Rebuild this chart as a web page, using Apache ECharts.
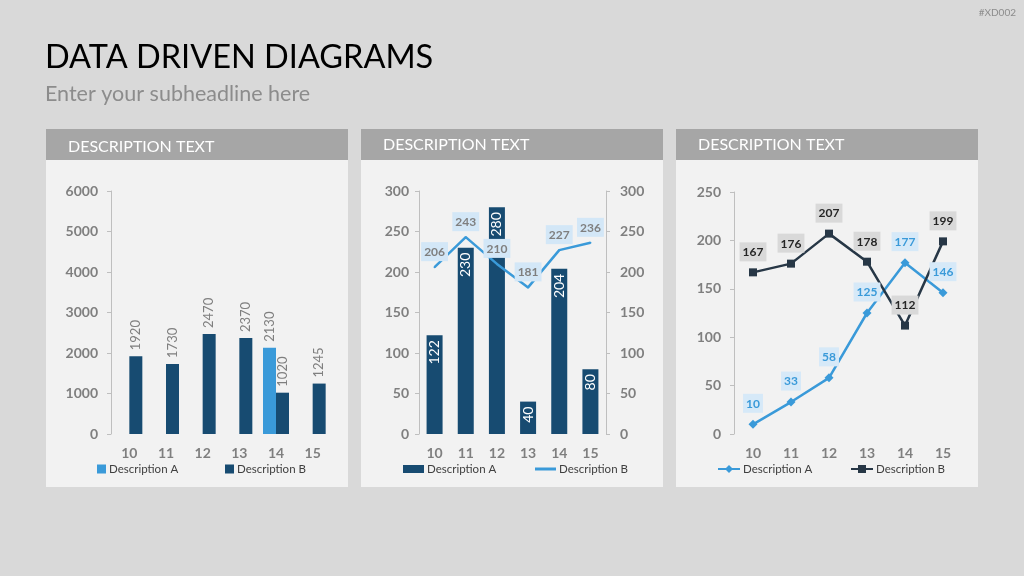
<!DOCTYPE html>
<html>
<head>
<meta charset="utf-8">
<script src="https://cdn.jsdelivr.net/npm/echarts@6/dist/echarts.min.js"></script>
<style>
html,body{margin:0;padding:0;background:#d9d9d9;}
#chart{width:1024px;height:576px;}
</style>
</head>
<body>
<div id="chart"></div>
<script>
const categories = ['10','11','12','13','14','15'];
const p1A = ['-','-','-','-',2130,'-'];
const p1B = [1920,1730,2470,2370,1020,1245];
const p2A = [122,230,280,40,204,80];
const p2B = [206,243,210,181,227,236];
const p3A = [10,33,58,125,177,146];
const p3B = [167,176,207,178,112,199];
const legendNames = {p1A:'Description A',p1B:'Description B',p2A:'Description A',p2B:'Description B',p3A:'Description A',p3B:'Description B'};
const mainTitle = 'DATA DRIVEN DIAGRAMS';
const subTitle = 'Enter your subheadline here';
const panelTitle = 'DESCRIPTION TEXT';
const code = '#XD002';

const FONT = 'Lato';
const LIGHT = '#3a9ad9';
const DARK = '#174b71';
const SLATE = '#273746';
const AXIS = '#7f7f7f';

const chart = echarts.init(document.getElementById('chart'));

function panel(x, ty) {
  return [
    {type:'rect', shape:{x:x, y:129, width:302, height:358}, style:{fill:'#f2f2f2'}, z:-10},
    {type:'rect', shape:{x:x, y:129, width:302, height:31}, style:{fill:'#a6a6a6'}, z:-9},
    {type:'text', x:x+22, y:ty, style:{text:panelTitle, fill:'#ffffff', font:'16px ' + FONT, textAlign:'left', textVerticalAlign:'middle', align:'left', verticalAlign:'middle'}, z:5}
  ];
}

function xAxis(g) {
  return {type:'category', gridIndex:g, data:categories,
    axisLine:{show:false}, axisTick:{show:false},
    axisLabel:{color:AXIS, fontWeight:'bold', fontSize:14, fontFamily:FONT, margin:12}};
}
function yAxis(g, max, interval, pos, margin) {
  return {type:'value', gridIndex:g, min:0, max:max, interval:interval, position:pos||'left',
    axisLine:{show:true, lineStyle:{color:'#bfbfbf'}},
    axisTick:{show:true, length:4, lineStyle:{color:'#bfbfbf'}},
    splitLine:{show:false},
    axisLabel:{color:AXIS, fontWeight:'bold', fontSize:14, fontFamily:FONT, margin:margin, formatter:v => String(v)}};
}

function legend(name, left, icon, w, h) {
  return {data:[icon ? {name:name, icon:icon} : name], left:left, top:463, itemWidth:w, itemHeight:h, padding:0,
    formatter:n => legendNames[n], selectedMode:false,
    textStyle:{color:'#404040', fontSize:11.5, fontFamily:FONT, padding:[0,0,0,-2]}};
}

const rotLabelTop = {show:true, position:'top', rotate:90, align:'left', verticalAlign:'middle', distance:6,
  color:AXIS, fontSize:13, fontFamily:FONT};

const option = {
  animation:false,
  backgroundColor:'#d9d9d9',
  graphic:[
    {type:'text', x:45, y:58, style:{text:mainTitle, fill:'#000000', font:'32.5px ' + FONT, textAlign:'left', textVerticalAlign:'middle', align:'left', verticalAlign:'middle'}},
    {type:'text', x:45, y:94, style:{text:subTitle, fill:'#8c8c8c', font:'21.5px ' + FONT, textAlign:'left', textVerticalAlign:'middle', align:'left', verticalAlign:'middle'}},
    {type:'text', x:1016, y:13, style:{text:code, fill:'#8c8c8c', font:'10px ' + FONT, textAlign:'right', textVerticalAlign:'middle', align:'right', verticalAlign:'middle'}},
    ...panel(46, 147), ...panel(361, 145), ...panel(676, 145)
  ],
  grid:[
    {left:111, top:191, width:220, height:243},
    {left:419, top:191, width:187, height:243},
    {left:734, top:192, width:228, height:242}
  ],
  xAxis:[xAxis(0), xAxis(1), xAxis(2)],
  yAxis:[
    yAxis(0, 6000, 1000, 'left', 13),
    yAxis(1, 300, 50, 'left', 10),
    yAxis(1, 300, 50, 'right', 14),
    yAxis(2, 250, 50, 'left', 13)
  ],
  legend:[
    legend('p1A', 97, 'rect', 9, 9),
    legend('p1B', 225, 'rect', 9, 9),
    legend('p2A', 403, 'rect', 21, 8),
    legend('p2B', 535, 'rect', 21, 3),
    legend('p3A', 717, null, 22, 10),
    legend('p3B', 850, null, 22, 10)
  ],
  series:[
    {name:'p1A', type:'bar', xAxisIndex:0, yAxisIndex:0, data:p1A, barWidth:13, barGap:'0%',
      itemStyle:{color:LIGHT}, label:rotLabelTop},
    {name:'p1B', type:'bar', xAxisIndex:0, yAxisIndex:0, data:p1B, barWidth:13, barGap:'0%',
      itemStyle:{color:DARK}, label:rotLabelTop},
    {name:'p2A', type:'bar', xAxisIndex:1, yAxisIndex:1, data:p2A, barWidth:16,
      itemStyle:{color:DARK},
      label:{show:true, position:'insideTop', rotate:90, align:'right', verticalAlign:'middle', distance:5,
        color:'#ffffff', fontSize:14, fontFamily:FONT}},
    {name:'p2B', type:'line', xAxisIndex:1, yAxisIndex:2, data:p2B, symbol:'circle', symbolSize:2,
      itemStyle:{color:LIGHT}, lineStyle:{color:LIGHT, width:2.5},
      label:{show:true, position:'top', distance:5, color:AXIS, fontWeight:'bold', fontSize:12, fontFamily:FONT,
        backgroundColor:'#d3e7f7', padding:[4,3,3,3]}},
    {name:'p3A', type:'line', xAxisIndex:2, yAxisIndex:3, data:p3A, symbol:'diamond', symbolSize:9,
      itemStyle:{color:LIGHT}, lineStyle:{color:LIGHT, width:2.5},
      label:{show:true, position:'top', distance:7, color:LIGHT, fontWeight:'bold', fontSize:12, fontFamily:FONT,
        backgroundColor:'#d6e9f8', padding:[4,3,3,3]}},
    {name:'p3B', type:'line', xAxisIndex:2, yAxisIndex:3, data:p3B, symbol:'rect', symbolSize:8,
      itemStyle:{color:SLATE}, lineStyle:{color:SLATE, width:2.5},
      label:{show:true, position:'top', distance:7, color:'#262626', fontWeight:'bold', fontSize:12, fontFamily:FONT,
        backgroundColor:'#d9d9d9', padding:[4,3,3,3]}}
  ]
};
chart.setOption(option);
</script>
</body>
</html>
